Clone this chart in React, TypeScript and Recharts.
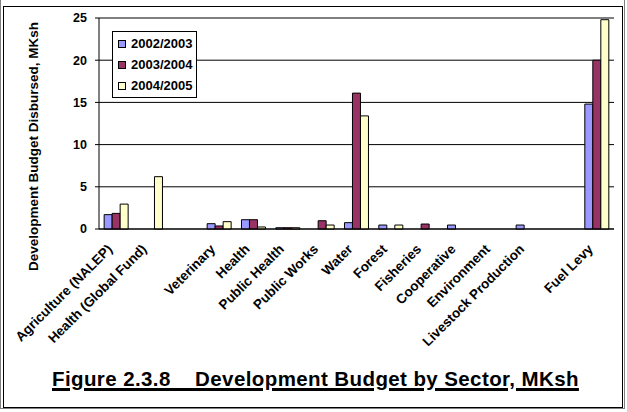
import React from "react";
import { BarChart, Bar, XAxis, YAxis, CartesianGrid, Legend } from "recharts";

const sectors = [
  "Agriculture (NALEP)",
  "Health (Global Fund)",
  "",
  "Veterinary",
  "Health",
  "Public Health",
  "Public Works",
  "Water",
  "Forest",
  "Fisheries",
  "Cooperative",
  "Environment",
  "Livestock Production",
  "",
  "Fuel Levy",
];
const fy0203 = [1.7, null, null, 0.63, 1.1, 0.15, null, 0.75, 0.47, null, 0.47, null, 0.47, null, 14.8];
const fy0304 = [1.85, null, null, 0.36, 1.1, 0.15, 0.98, 16.1, null, 0.59, null, null, null, null, 20.0];
const fy0405 = [2.95, 6.2, null, 0.87, 0.24, 0.15, 0.47, 13.4, 0.47, null, null, null, null, null, 24.8];
const yTicks = [0, 5, 10, 15, 20, 25];
const edgeTicks = [...sectors.map((_, i) => i), sectors.length];

const data = sectors.map((s, i) => ({
  key: `c${i}`,
  sector: s,
  a: fy0203[i],
  b: fy0304[i],
  c: fy0405[i],
}));

const FONT = '"Liberation Sans", Arial, sans-serif';

function SectorTick(props: any) {
  const { x, y, payload } = props;
  const label = sectors[payload.index] ?? "";
  return (
    <g transform={`translate(${x - 3},${y + 21})`}>
      <text transform="rotate(-45)" textAnchor="end" fontFamily={FONT} fontWeight="bold" fontSize={13.5} fill="#000">
        {label}
      </text>
    </g>
  );
}

function LegendBox({ payload }: any) {
  return (
    <div style={{ border: "1px solid #000", background: "#fff", width: 83, padding: "1px 0 1px 0", fontFamily: FONT, fontWeight: "bold", fontSize: 13 }}>
      {(payload || []).map((p: any) => (
        <div key={p.value} style={{ display: "flex", alignItems: "center", height: 21, paddingLeft: 5 }}>
          <span style={{ width: 6, height: 6, background: p.color, border: "1px solid #000", marginRight: 5 }} />
          <span>{p.value}</span>
        </div>
      ))}
    </div>
  );
}

export default function App() {
  return (
    <div style={{ position: "absolute", left: 0, top: 0, width: 627, height: 412, background: "#fff" }}>
      <div style={{ position: "absolute", left: 0, top: -2, width: 625, height: 411, border: "1px solid #808080", boxSizing: "border-box" }} />
      <div style={{ position: "absolute", left: 3, top: 6, width: 620, height: 402, border: "1px solid #000", boxSizing: "border-box" }} />
      <BarChart
        width={627}
        height={412}
        data={data}
        margin={{ top: 18, right: 13, left: 39, bottom: 0 }}
        barCategoryGap="15%"
        barGap={0}
        style={{ position: "absolute", left: 0, top: 0 }}
      >
        <CartesianGrid vertical={false} stroke="#000" strokeWidth={1} />
        <XAxis
          xAxisId="edge"
          type="number"
          domain={[0, sectors.length]}
          ticks={edgeTicks}
          allowDataOverflow
          height={0}
          mirror
          tick={false}
          axisLine={false}
          tickLine={{ stroke: "#000" }}
          tickSize={4}
        />
        <XAxis
          xAxisId="cat"
          dataKey="key"
          height={183}
          interval={0}
          tick={<SectorTick />}
          tickLine={false}
          tickSize={0}
          tickMargin={0}
          axisLine={{ stroke: "#000" }}
        />
        <YAxis
          domain={[0, 25]}
          ticks={yTicks}
          width={60}
          tickSize={4}
          tickMargin={8}
          tickLine={{ stroke: "#000" }}
          axisLine={{ stroke: "#000" }}
          tick={{ fill: "#000", fontFamily: FONT, fontWeight: "bold", fontSize: 12.5 }}
          label={{
            value: "Development Budget Disbursed, MKsh",
            angle: -90,
            position: "insideLeft",
            dx: -11,
            dy: 23,
            style: { textAnchor: "middle", fill: "#000", fontFamily: FONT, fontWeight: "bold", fontSize: 13.5 },
          }}
        />
        <YAxis yAxisId="right" orientation="right" domain={[0, 25]} width={0} tick={false} tickLine={false} axisLine={{ stroke: "#000" }} />
        <Legend
          layout="vertical"
          align="center"
          verticalAlign="middle"
          content={<LegendBox />}
          wrapperStyle={{ left: 112, top: 31, width: 85, height: 66 }}
        />
        <Bar xAxisId="cat" dataKey="a" name="2002/2003" fill="#9999FF" stroke="#000" strokeWidth={1} isAnimationActive={false} />
        <Bar xAxisId="cat" dataKey="b" name="2003/2004" fill="#993366" stroke="#000" strokeWidth={1} isAnimationActive={false} />
        <Bar xAxisId="cat" dataKey="c" name="2004/2005" fill="#FFFFCC" stroke="#000" strokeWidth={1} isAnimationActive={false} />
      </BarChart>
      <div
        style={{
          position: "absolute",
          left: 52,
          top: 367,
          whiteSpace: "pre",
          fontFamily: FONT,
          fontWeight: "bold",
          fontSize: 20.5,
          letterSpacing: 0.4,
          textDecoration: "underline",
          textDecorationThickness: 3,
          textUnderlineOffset: 2,
          color: "#000",
        }}
      >
        {"Figure 2.3.8    Development Budget by Sector, MKsh"}
      </div>
    </div>
  );
}
